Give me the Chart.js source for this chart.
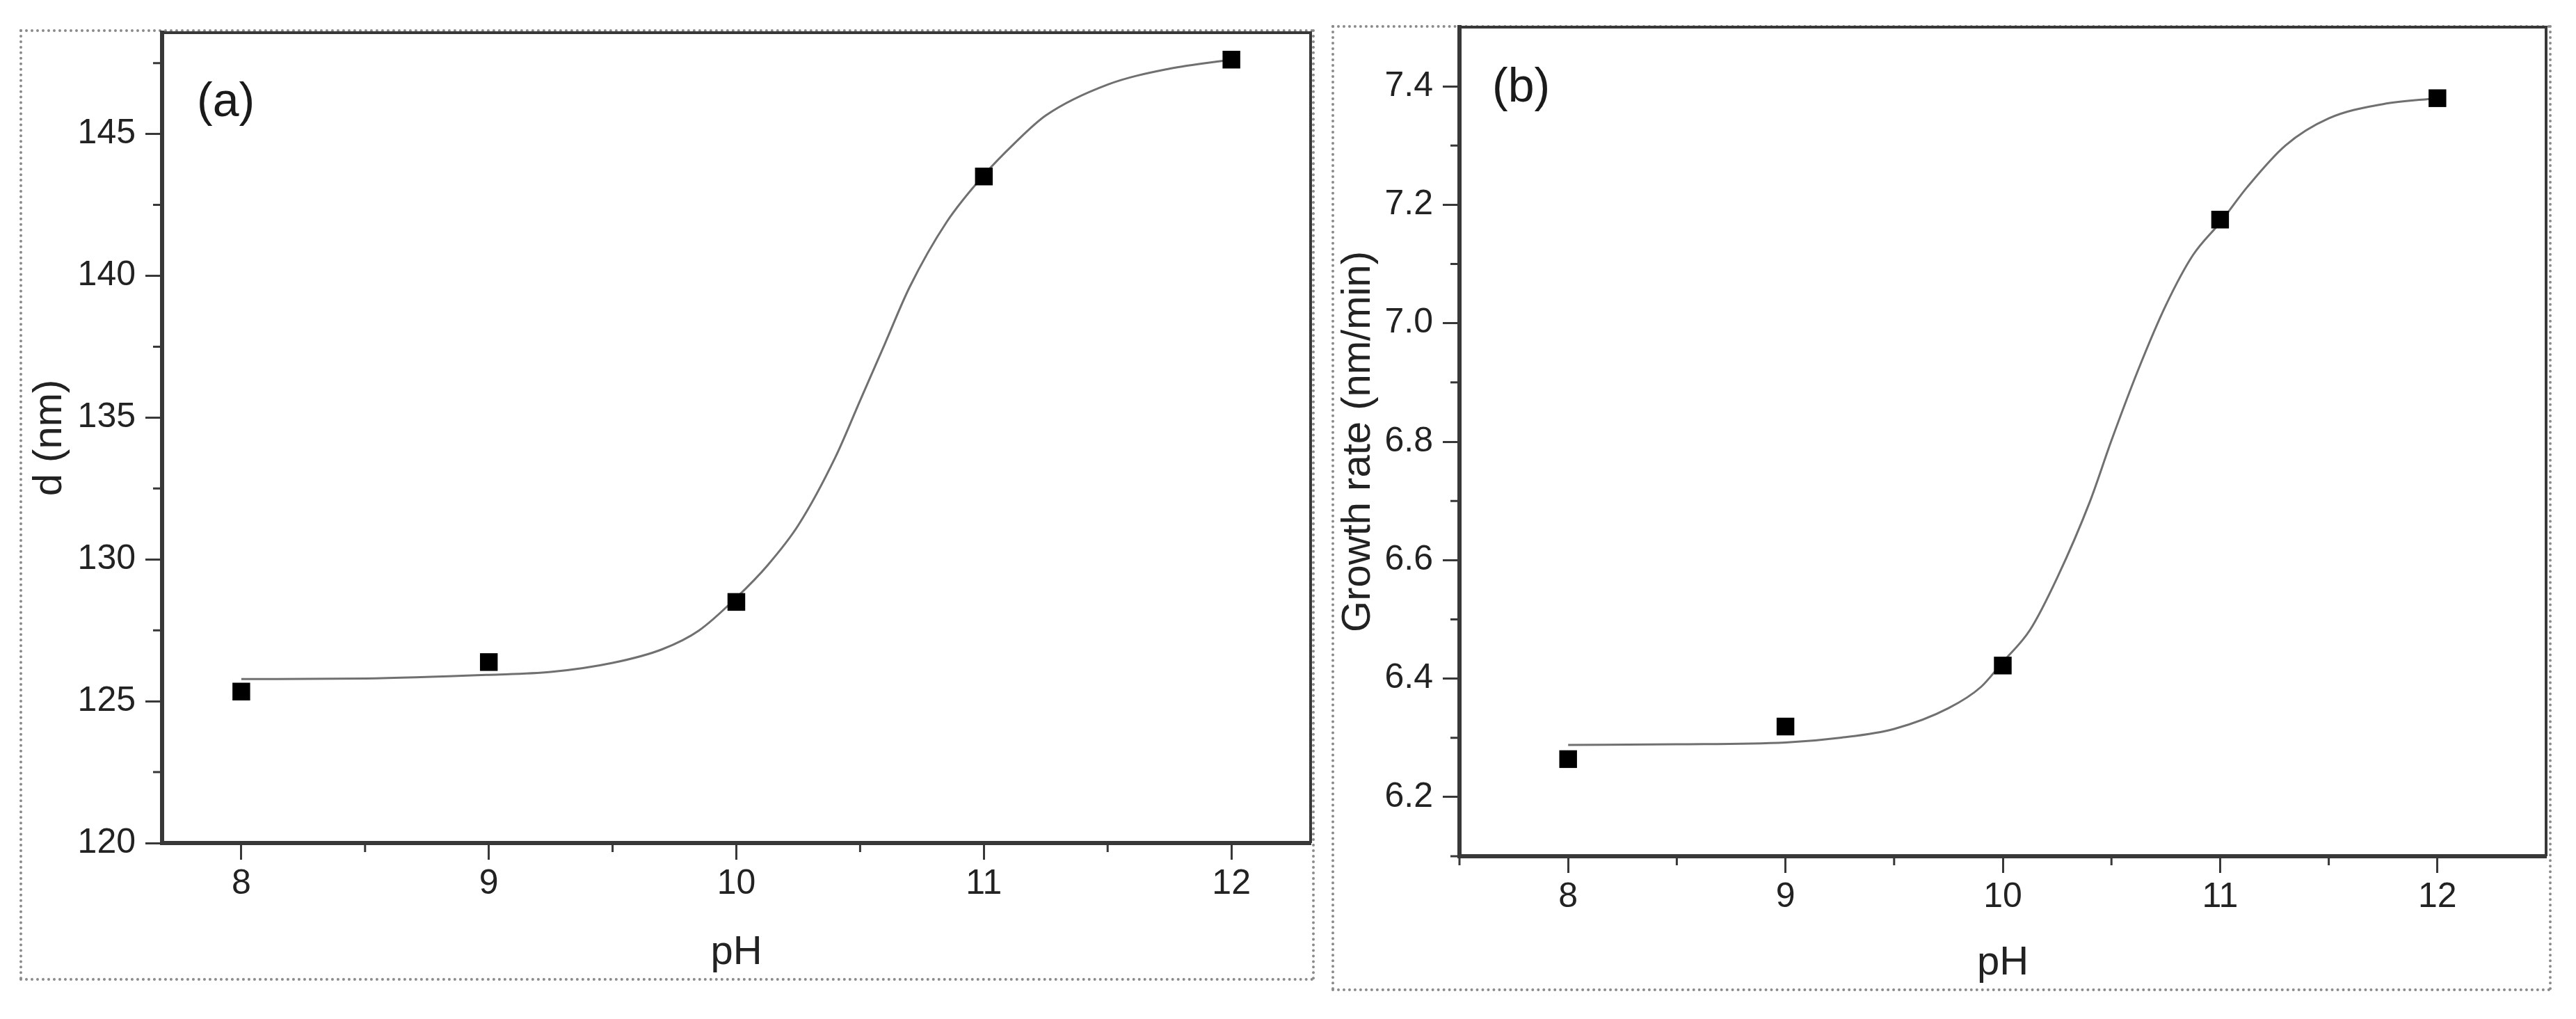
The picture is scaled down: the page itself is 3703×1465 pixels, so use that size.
<!DOCTYPE html>
<html>
<head>
<meta charset="utf-8">
<script src="https://cdn.jsdelivr.net/npm/chart.js@4.4.1/dist/chart.umd.min.js"></script>
<style>
  html, body { margin: 0; padding: 0; background: #fff; }
  body { width: 3703px; height: 1465px; position: relative; overflow: hidden; }
  .frame { position: absolute; box-sizing: border-box; border: 4px dotted #8a8a8a; }
  canvas { position: absolute; }
</style>
</head>
<body>
<div class="frame" style="left:28px;top:42px;width:1862px;height:1368px"></div>
<canvas id="chartA" width="1862" height="1368" style="left:28px;top:42px"></canvas>
<div class="frame" style="left:1914px;top:36px;width:1754px;height:1389px"></div>
<canvas id="chartB" width="1754" height="1389" style="left:1914px;top:36px"></canvas>
<script>
// Measured points
const phValues = [8, 9, 10, 11, 12];
const diameterNm = [125.34, 126.38, 128.5, 143.5, 147.62];
const growthRate = [6.264, 6.319, 6.422, 7.175, 7.38];

// Fit curves
const fitPhA = [8, 8.5, 9, 9.25, 9.5, 9.7, 9.85, 10, 10.125, 10.25, 10.4, 10.5, 10.6, 10.7, 10.85, 11, 11.125, 11.25, 11.5, 11.75, 12];
const fitDiameter = [125.78, 125.8, 125.93, 126.03, 126.35, 126.83, 127.5, 128.65, 129.78, 131.2, 133.6, 135.6, 137.6, 139.6, 141.9, 143.55, 144.68, 145.65, 146.74, 147.3, 147.62];
const fitPhB = [8, 8.5, 9, 9.25, 9.5, 9.75, 9.9, 10, 10.125, 10.25, 10.4, 10.5, 10.625, 10.75, 10.875, 11, 11.125, 11.3, 11.5, 11.75, 12];
const fitGrowth = [6.288, 6.289, 6.292, 6.3, 6.315, 6.35, 6.386, 6.428, 6.482, 6.57, 6.698, 6.802, 6.923, 7.03, 7.115, 7.17, 7.23, 7.3, 7.346, 7.37, 7.38];

// Ticks
const xTickValues = [8, 9, 10, 11, 12];
const xMinorA = [8.5, 9.5, 10.5, 11.5];
const xMinorB = [7.5, 8.5, 9.5, 10.5, 11.5];
const yTickValuesA = [120, 125, 130, 135, 140, 145];
const yMinorA = [122.5, 127.5, 132.5, 137.5, 142.5, 147.5];
const yTickValuesB = [6.2, 6.4, 6.6, 6.8, 7.0, 7.2, 7.4];
const yMinorB = [6.1, 6.3, 6.5, 6.7, 6.9, 7.1, 7.3];

const FONT = '"Liberation Sans", Arial, sans-serif';
const AXIS_COLOR = '#383838';

// top/right box edges, minor ticks and the panel letter
const panelExtras = {
	id: 'panelExtras',
	afterDraw(chart, args, opts) {
		const { ctx, chartArea: a, scales } = chart;
		ctx.save();
		ctx.strokeStyle = AXIS_COLOR;
		ctx.lineWidth = 4;
		ctx.beginPath();
		ctx.moveTo(a.left, a.top);
		ctx.lineTo(a.right, a.top);
		ctx.lineTo(a.right, a.bottom);
		ctx.stroke();

		ctx.lineWidth = 3;
		ctx.beginPath();
		opts.xMinor.forEach((v) => {
			const px = scales.x.getPixelForValue(v);
			ctx.moveTo(px, a.bottom);
			ctx.lineTo(px, a.bottom + 13);
		});
		opts.yMinor.forEach((v) => {
			const py = scales.y.getPixelForValue(v);
			ctx.moveTo(a.left, py);
			ctx.lineTo(a.left - 13, py);
		});
		ctx.stroke();

		ctx.fillStyle = '#1a1a1a';
		ctx.font = '68px ' + FONT;
		ctx.textBaseline = 'alphabetic';
		ctx.fillText(opts.label, a.left + opts.labelDx, a.top + opts.labelDy);
		ctx.restore();
	},
};

function makePanel(id, cfg) {
	return new Chart(document.getElementById(id), {
		type: 'line',
		data: {
			datasets: [
				{
					data: phValues.map((x, i) => ({ x, y: cfg.points[i] })),
					showLine: false,
					pointStyle: 'rect',
					pointRadius: 18,
					pointBackgroundColor: '#000',
					pointBorderWidth: 0,
					order: 0,
				},
				{
					data: cfg.fitX.map((x, i) => ({ x, y: cfg.fitY[i] })),
					borderColor: '#707070',
					borderWidth: 3,
					pointRadius: 0,
					cubicInterpolationMode: 'monotone',
					order: 1,
				},
			],
		},
		options: {
			responsive: false,
			animation: false,
			layout: { padding: cfg.padding, autoPadding: false },
			plugins: {
				legend: { display: false },
				tooltip: { enabled: false },
				panelExtras: cfg.extras,
			},
			scales: {
				x: {
					type: 'linear',
					min: cfg.xMin,
					max: cfg.xMax,
					afterBuildTicks: (s) => { s.ticks = xTickValues.map((v) => ({ value: v })); },
					afterFit: (s) => {
						s.height = cfg.xAxisHeight;
						s.paddingLeft = 0;
						s.paddingRight = 0;
					},
					ticks: { font: { family: FONT, size: 50 }, color: '#222', padding: 5, maxRotation: 0 },
					grid: { drawOnChartArea: false, drawTicks: true, tickLength: 24, tickWidth: 3, tickColor: AXIS_COLOR, color: AXIS_COLOR },
					border: { display: true, color: AXIS_COLOR, width: 6 },
					title: { display: true, text: 'pH', color: '#222', font: { family: FONT, size: 58 }, padding: { top: 0, bottom: 5 } },
				},
				y: {
					type: 'linear',
					min: cfg.yMin,
					max: cfg.yMax,
					afterBuildTicks: (s) => { s.ticks = cfg.yTicks.map((v) => ({ value: v })); },
					afterFit: (s) => {
						s.width = cfg.yAxisWidth;
						s.paddingTop = 0;
						s.paddingBottom = 0;
					},
					ticks: { font: { family: FONT, size: 50 }, color: '#222', padding: 14, callback: cfg.yFormat },
					grid: { drawOnChartArea: false, drawTicks: true, tickLength: 24, tickWidth: 3, tickColor: AXIS_COLOR, color: AXIS_COLOR },
					border: { display: true, color: AXIS_COLOR, width: 6 },
					title: { display: true, text: cfg.yTitle, color: '#222', font: { family: FONT, size: 58 }, padding: { top: cfg.yTitlePad, bottom: 0 } },
				},
			},
		},
		plugins: [panelExtras],
	});
}

makePanel('chartA', {
	points: diameterNm,
	fitX: fitPhA,
	fitY: fitDiameter,
	xMin: 7.68,
	xMax: 12.32,
	yMin: 120,
	yMax: 148.57,
	yTicks: yTickValuesA,
	yFormat: (v) => String(v),
	yTitle: 'd (nm)',
	yTitlePad: 9,
	yAxisWidth: 205,
	xAxisHeight: 198,
	padding: { top: 5, right: 6, left: 0, bottom: 0 },
	extras: { xMinor: xMinorA, yMinor: yMinorA, label: '(a)', labelDx: 50, labelDy: 120 },
});

makePanel('chartB', {
	points: growthRate,
	fitX: fitPhB,
	fitY: fitGrowth,
	xMin: 7.5,
	xMax: 12.5,
	yMin: 6.1,
	yMax: 7.5,
	yTicks: yTickValuesB,
	yFormat: (v) => v.toFixed(1),
	yTitle: 'Growth rate (nm/min)',
	yTitlePad: 4,
	yAxisWidth: 184,
	xAxisHeight: 194,
	padding: { top: 3, right: 8, left: 0, bottom: 0 },
	extras: { xMinor: xMinorB, yMinor: yMinorB, label: '(b)', labelDx: 47, labelDy: 107 },
});
</script>
</body>
</html>
